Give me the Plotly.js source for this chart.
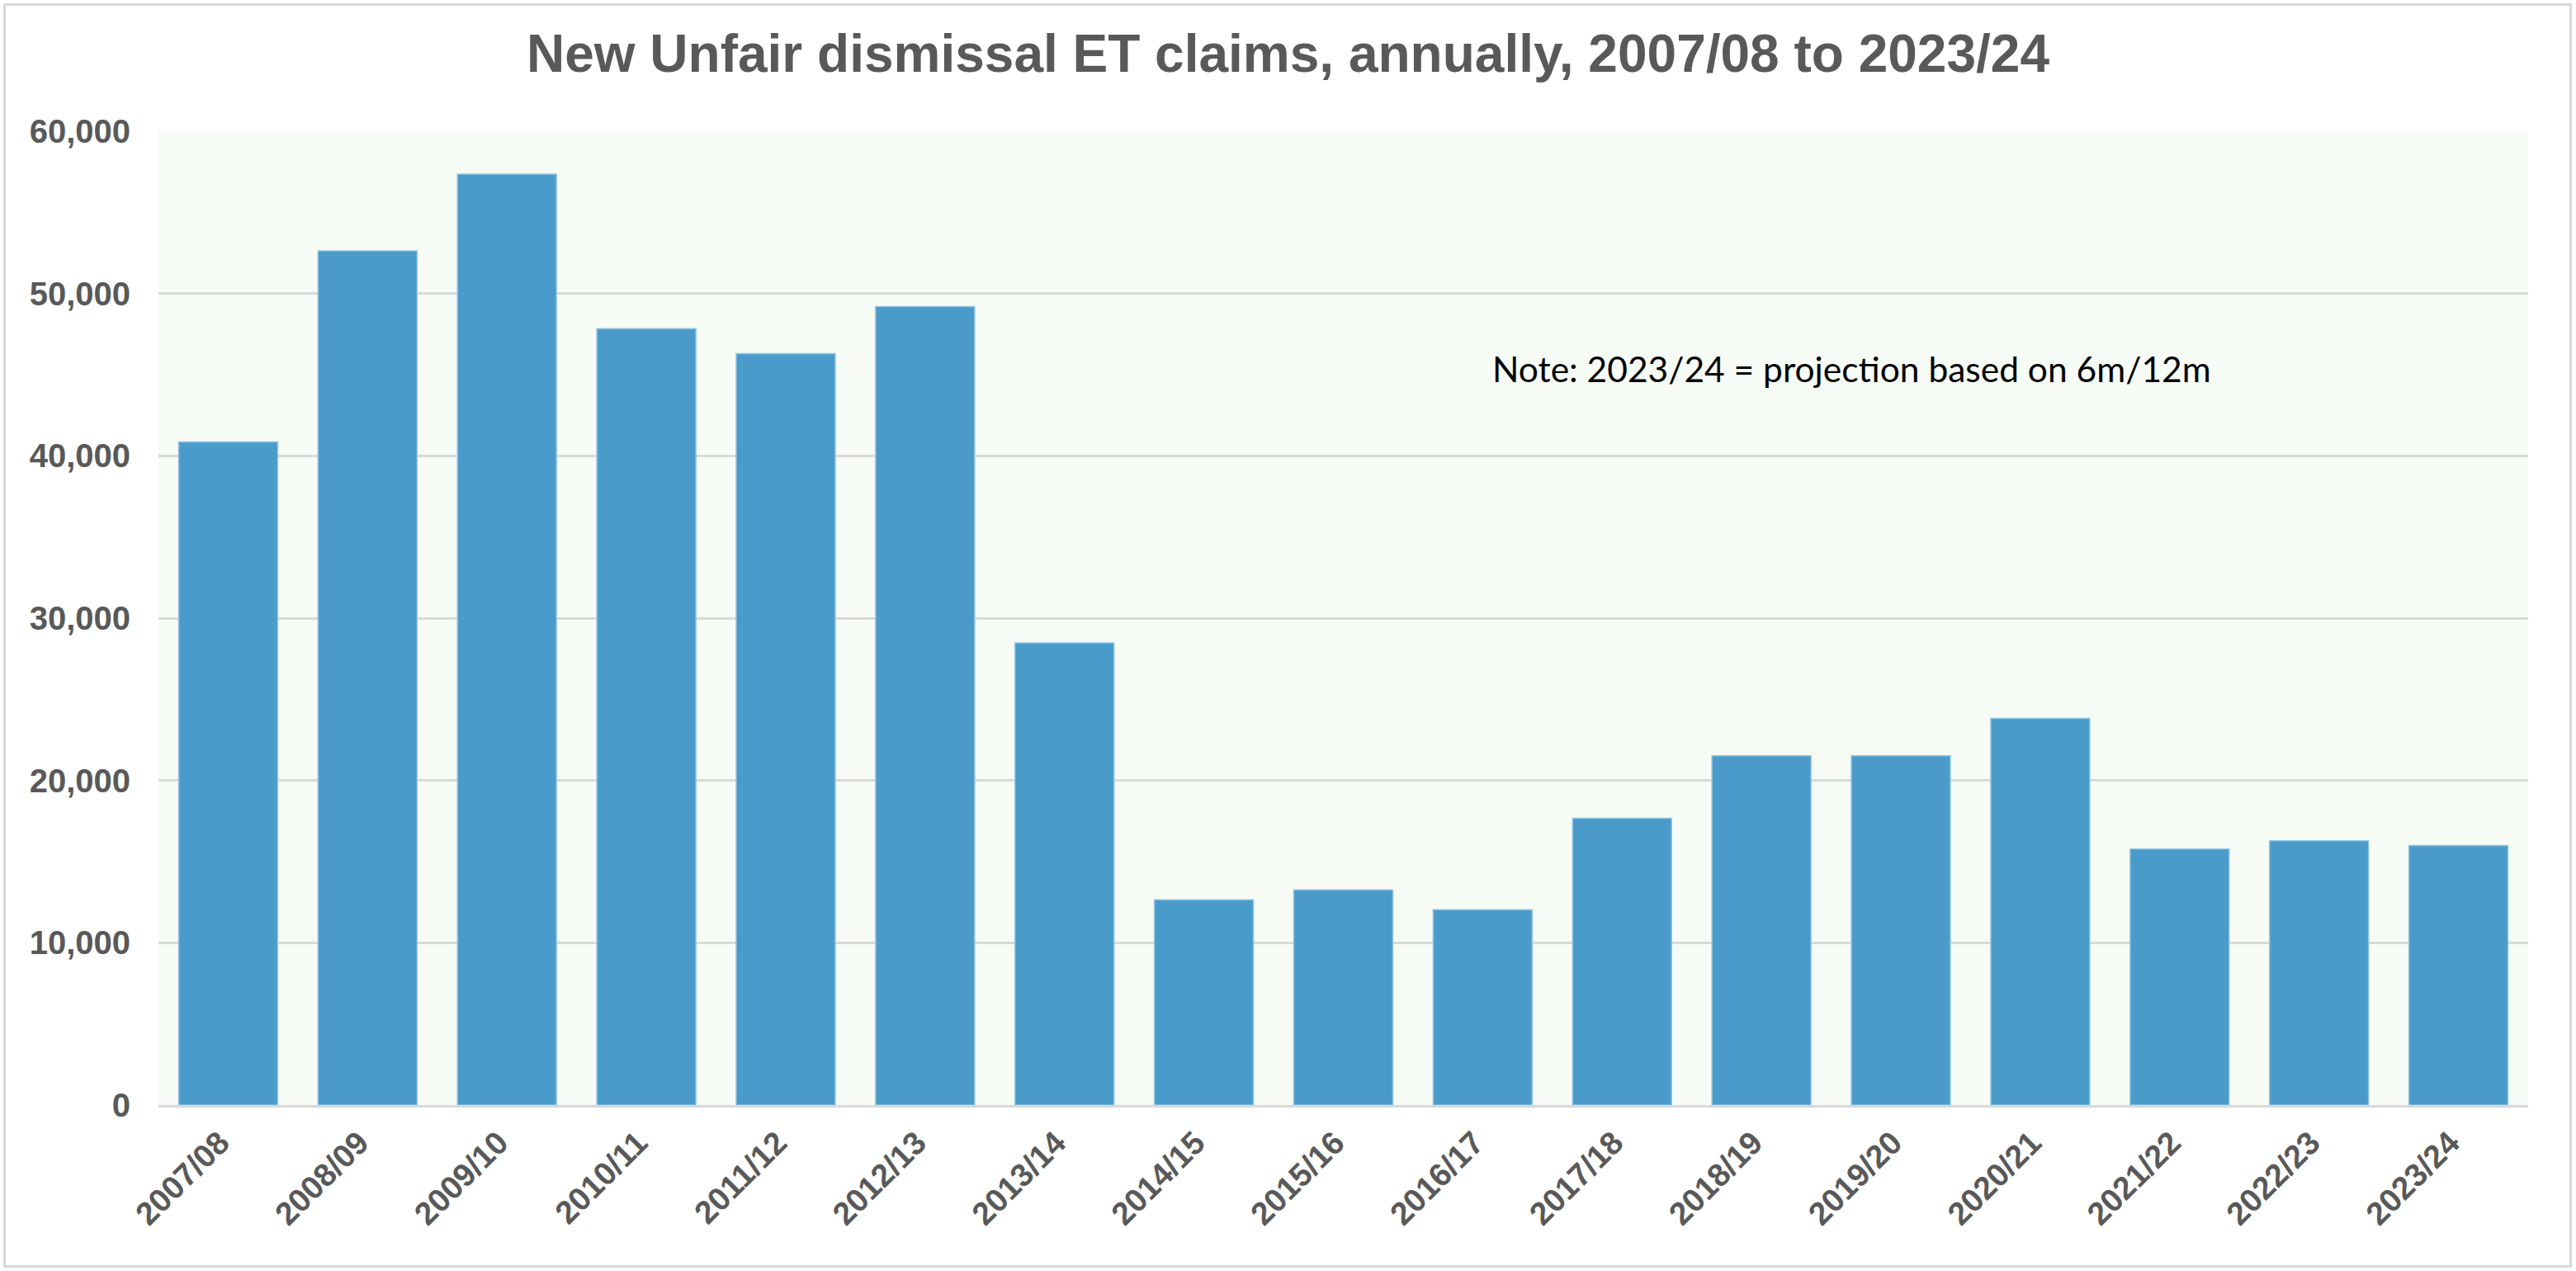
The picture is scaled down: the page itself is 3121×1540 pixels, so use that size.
<!DOCTYPE html>
<html>
<head>
<meta charset="utf-8">
<script src="https://cdn.plot.ly/plotly-3.0.1.min.js"></script>
<style>
  html, body { margin: 0; padding: 0; background: #ffffff; }
  #wrap { position: relative; width: 3121px; height: 1540px; }
  #chart { position: absolute; left: 0; top: 0; width: 3121px; height: 1540px; }
  #frame { position: absolute; left: 4px; top: 4px; width: 3106px; height: 1526px;
           border: 3px solid #D9D9D9; pointer-events: none; }
</style>
</head>
<body>
<div id="wrap">
  <div id="chart"></div>
  <div id="frame"></div>
</div>
<script>
const years = ["2007/08","2008/09","2009/10","2010/11","2011/12","2012/13","2013/14","2014/15","2015/16","2016/17","2017/18","2018/19","2019/20","2020/21","2021/22","2022/23","2023/24"];
const claims = [40860, 52630, 57360, 47830, 46300, 49200, 28470, 12650, 13260, 12040, 17670, 21520, 21520, 23820, 15780, 16290, 15990];
const yTicks = [0, 10000, 20000, 30000, 40000, 50000, 60000];
const titleText = "New Unfair dismissal ET claims, annually, 2007/08 to 2023/24";
const noteText = "Note: 2023/24 = projection based on 6m/12m";

const trace = {
  type: "bar",
  x: years,
  y: claims,
  marker: { color: "#4A9BC9", line: { color: "#8EC4E2", width: 1.5 } },
  hoverinfo: "x+y"
};

const layout = {
  width: 3121,
  height: 1540,
  margin: { l: 192, r: 58, t: 159, b: 201, pad: 0 },
  paper_bgcolor: "#ffffff",
  plot_bgcolor: "#F6FBF5",
  showlegend: false,
  bargap: 0.29,
  title: {
    text: titleText,
    font: { family: "Liberation Sans, Arial, sans-serif", size: 64, color: "#595959", weight: "bold" },
    xref: "container", x: 0.5, xanchor: "center",
    yref: "container", y: 1 - 65 / 1540, yanchor: "middle"
  },
  xaxis: {
    type: "category",
    tickangle: -45,
    tickfont: { family: "Liberation Sans, Arial, sans-serif", size: 39, color: "#595959", weight: "bold" },
    ticks: "outside", ticklen: 4, tickcolor: "rgba(0,0,0,0)",
    ticklabelshift: -10,
    showline: true, linecolor: "#D9D9D9", linewidth: 3,
    showgrid: false, zeroline: false
  },
  yaxis: {
    range: [0, 60000],
    tickvals: yTicks,
    tickformat: ",d",
    tickfont: { family: "Liberation Sans, Arial, sans-serif", size: 40, color: "#595959", weight: "bold" },
    ticks: "outside", ticklen: 25, tickcolor: "rgba(0,0,0,0)",
    showgrid: true, gridcolor: "#D9D9D9", gridwidth: 3,
    zeroline: false, showline: false
  },
  annotations: [{
    text: noteText,
    xref: "paper", yref: "paper",
    x: (2243 - 192) / 2871, y: (1339 - 446) / 1180,
    xanchor: "center", yanchor: "middle",
    showarrow: false,
    font: { family: "Lato, Open Sans, sans-serif", size: 42.5, color: "#000000" }
  }]
};

Plotly.newPlot("chart", [trace], layout, { displayModeBar: false, staticPlot: true });
</script>
</body>
</html>
